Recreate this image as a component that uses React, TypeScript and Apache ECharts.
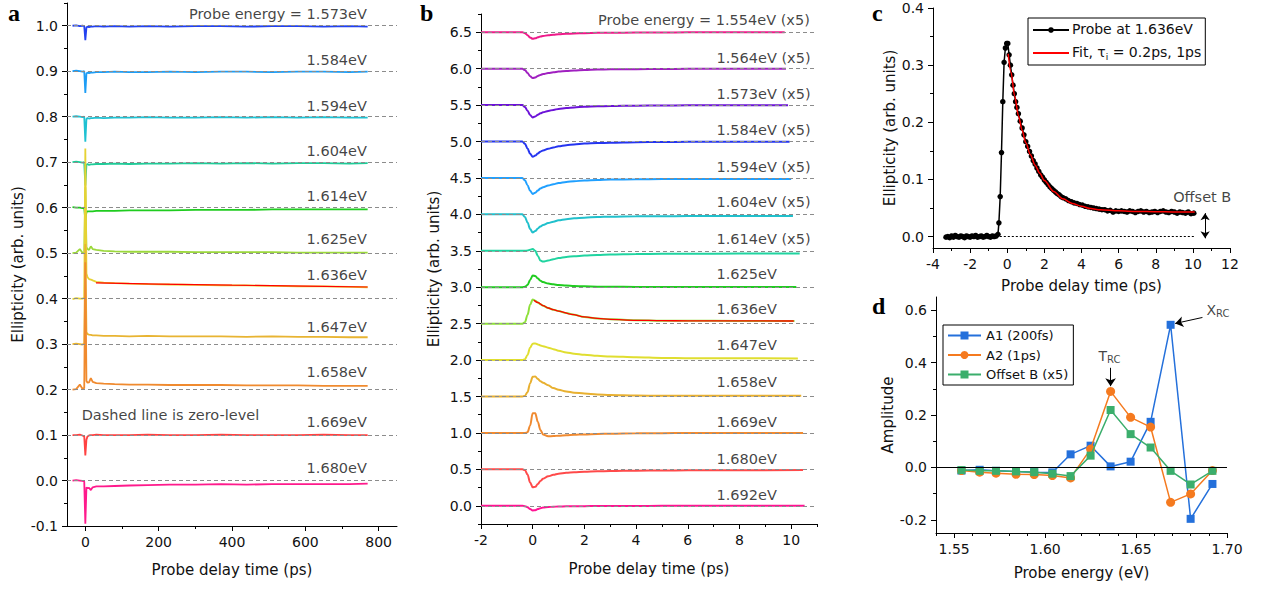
import React, { useEffect, useRef } from 'react';
import * as echarts from 'echarts';

const FONT = '"DejaVu Sans", "Liberation Sans", sans-serif';
const SERIF = '"Liberation Serif", "DejaVu Serif", serif';
const TXT = '#111';

// ---------------- Panel a ----------------
const aTime = [-35, -25, -15, -8, -3, 0, 3, 6, 10, 15, 20, 30, 50, 80, 120, 170, 230, 300, 370, 440, 510, 580, 650, 720, 770];
const aLabels = ['Probe energy = 1.573eV', '1.584eV', '1.594eV', '1.604eV', '1.614eV', '1.625eV', '1.636eV', '1.647eV', '1.658eV', '1.669eV', '1.680eV'];
const aOffsets = [1.0, 0.9, 0.8, 0.7, 0.6, 0.5, 0.4, 0.3, 0.2, 0.1, 0.0];
const aLabelY = [1.002, 0.901, 0.801, 0.702, 0.603, 0.508, 0.4286, 0.3154, 0.2147, 0.1066, 0.0044];
const aColors = ['#2342f0', '#1d9df5', '#1fc1d2', '#1fcb98', '#1fcc1f', '#9bd83b', '#e6d233', '#e8b432', '#f08a2e', '#ff4242', '#ff1a8c'];
const a1573 = [1.0, 1.001, 0.999, 1.0, 0.999, 0.968, 0.996, 0.998, 0.997, 0.998, 0.998, 0.999, 0.998, 0.999, 0.998, 0.999, 0.998, 0.999, 0.999, 0.998, 0.999, 0.999, 0.998, 0.999, 0.998];
const a1584 = [0.9, 0.901, 0.9, 0.899, 0.9, 0.852, 0.895, 0.897, 0.896, 0.897, 0.897, 0.898, 0.898, 0.899, 0.898, 0.898, 0.899, 0.898, 0.899, 0.899, 0.898, 0.899, 0.899, 0.898, 0.899];
const a1594 = [0.8, 0.801, 0.8, 0.799, 0.8, 0.745, 0.795, 0.797, 0.796, 0.797, 0.797, 0.798, 0.797, 0.798, 0.798, 0.799, 0.798, 0.798, 0.799, 0.798, 0.799, 0.798, 0.799, 0.798, 0.798];
const a1604 = [0.7, 0.701, 0.7, 0.699, 0.7, 0.649, 0.694, 0.696, 0.694, 0.695, 0.695, 0.696, 0.696, 0.697, 0.696, 0.697, 0.697, 0.698, 0.697, 0.698, 0.697, 0.698, 0.698, 0.697, 0.698];
const a1614 = [0.601, 0.6, 0.6, 0.599, 0.6, 0.572, 0.59, 0.592, 0.592, 0.592, 0.592, 0.593, 0.593, 0.593, 0.594, 0.594, 0.594, 0.595, 0.595, 0.595, 0.596, 0.596, 0.596, 0.596, 0.596];
const a1625 = [0.5, 0.501, 0.509, 0.501, 0.5, 0.645, 0.513, 0.509, 0.507, 0.515, 0.509, 0.507, 0.505, 0.504, 0.503, 0.503, 0.503, 0.502, 0.502, 0.502, 0.502, 0.501, 0.501, 0.501, 0.501];
const a1636 = [0.399, 0.401, 0.4, 0.4, 0.402, 0.73, 0.455, 0.447, 0.443, 0.442, 0.44, 0.437, 0.435, 0.434, 0.433, 0.432, 0.431, 0.43, 0.429, 0.429, 0.428, 0.427, 0.427, 0.426, 0.425];
const a1647 = [0.3, 0.301, 0.3, 0.299, 0.301, 0.52, 0.326, 0.322, 0.321, 0.32, 0.319, 0.319, 0.318, 0.318, 0.317, 0.318, 0.317, 0.317, 0.317, 0.316, 0.317, 0.316, 0.316, 0.315, 0.315];
const a1658 = [0.2, 0.201, 0.211, 0.202, 0.203, 0.48, 0.219, 0.215, 0.216, 0.225, 0.217, 0.214, 0.213, 0.212, 0.211, 0.211, 0.21, 0.21, 0.21, 0.209, 0.209, 0.209, 0.208, 0.208, 0.208];
const a1669 = [0.1, 0.1, 0.101, 0.099, 0.097, 0.055, 0.09, 0.097, 0.099, 0.1, 0.1, 0.101, 0.1, 0.1, 0.1, 0.101, 0.1, 0.1, 0.101, 0.1, 0.1, 0.1, 0.101, 0.1, 0.1];
const a1680 = [0.0, 0.001, 0.0, -0.001, -0.002, -0.095, -0.015, -0.017, -0.016, -0.021, -0.015, -0.013, -0.013, -0.012, -0.011, -0.01, -0.009, -0.009, -0.008, -0.009, -0.008, -0.008, -0.008, -0.008, -0.007];
const aTraces = [a1573, a1584, a1594, a1604, a1614, a1625, a1636, a1647, a1658, a1669, a1680];
const aFitTime = [29, 200, 400, 600, 770];
const aFitVal = [0.4345, 0.432, 0.4295, 0.4275, 0.4255];
const aXTicks = [0, 200, 400, 600, 800];
const aXMinor = [100, 300, 500, 700];
const aYTicks = [-0.1, 0.0, 0.1, 0.2, 0.3, 0.4, 0.5, 0.6, 0.7, 0.8, 0.9, 1.0];
const aYMinor = [-0.05, 0.05, 0.15, 0.25, 0.35, 0.45, 0.55, 0.65, 0.75, 0.85, 0.95, 1.05];

// ---------------- Panel b ----------------
const bTime = [-2, -0.4, -0.3, -0.2, -0.1, 0, 0.1, 0.2, 0.3, 0.4, 0.6, 0.8, 1.0, 1.3, 1.6, 2, 2.5, 3, 4, 5, 6, 8];
const bEnd = [9.75, 9.8, 9.88, 9.94, 10.0, 10.07, 10.33, 10.2, 10.13, 10.26, 10.39, 10.46, 10.46, 10.52];
const bLabels = ['Probe energy = 1.554eV (x5)', '1.564eV (x5)', '1.573eV (x5)', '1.584eV (x5)', '1.594eV (x5)', '1.604eV (x5)', '1.614eV (x5)', '1.625eV', '1.636eV', '1.647eV', '1.658eV', '1.669eV', '1.680eV', '1.692eV'];
const bOffsets = [6.5, 6.0, 5.5, 5.0, 4.5, 4.0, 3.5, 3.0, 2.5, 2.0, 1.5, 1.0, 0.5, 0.0];
const bLabelY = [6.522, 6.005, 5.514, 5.008, 4.51, 4.027, 3.523, 3.032, 2.559, 2.063, 1.56, 1.0, 0.5, 0.004];
const bColors = ['#ee1a8a', '#a020c0', '#6c12d8', '#2535f0', '#20a0ff', '#20c0cc', '#20d4a0', '#20cc20', '#8ee03a', '#e0de30', '#e8b030', '#f08a30', '#ff4a4a', '#ff1493'];
const b1554 = [6.5, 6.5, 6.487, 6.46, 6.428, 6.41, 6.417, 6.43, 6.441, 6.448, 6.458, 6.465, 6.472, 6.478, 6.483, 6.487, 6.491, 6.493, 6.495, 6.497, 6.498, 6.499, 6.499];
const b1564 = [6.0, 6.0, 5.98, 5.94, 5.896, 5.87, 5.88, 5.899, 5.914, 5.925, 5.939, 5.949, 5.96, 5.969, 5.975, 5.982, 5.987, 5.99, 5.993, 5.995, 5.997, 5.998, 5.999];
const b1573 = [5.5, 5.5, 5.474, 5.423, 5.364, 5.33, 5.344, 5.367, 5.388, 5.401, 5.42, 5.434, 5.447, 5.459, 5.468, 5.476, 5.483, 5.486, 5.492, 5.494, 5.496, 5.497, 5.498];
const b1584 = [5.0, 5.0, 4.968, 4.905, 4.832, 4.79, 4.807, 4.836, 4.861, 4.878, 4.901, 4.918, 4.935, 4.95, 4.96, 4.971, 4.979, 4.983, 4.99, 4.993, 4.995, 4.997, 4.998];
const b1594 = [4.5, 4.5, 4.467, 4.401, 4.324, 4.28, 4.298, 4.328, 4.355, 4.372, 4.397, 4.414, 4.43, 4.445, 4.455, 4.464, 4.472, 4.477, 4.482, 4.485, 4.486, 4.487, 4.487];
const b1604 = [4.0, 4.0, 3.963, 3.888, 3.8, 3.75, 3.77, 3.805, 3.835, 3.855, 3.88, 3.9, 3.918, 3.934, 3.945, 3.955, 3.963, 3.968, 3.973, 3.975, 3.976, 3.977, 3.977];
const b1614 = [3.5, 3.5, 3.5, 3.505, 3.515, 3.525, 3.5, 3.43, 3.365, 3.352, 3.365, 3.385, 3.4, 3.415, 3.425, 3.435, 3.443, 3.448, 3.455, 3.458, 3.46, 3.462, 3.463];
const b1625 = [3.0, 3.0, 3.005, 3.03, 3.1, 3.16, 3.155, 3.12, 3.09, 3.07, 3.05, 3.04, 3.03, 3.022, 3.016, 3.012, 3.008, 3.006, 3.004, 3.003, 3.002, 3.002, 3.002];
const b1636 = [2.5, 2.5, 2.52, 2.62, 2.76, 2.83, 2.815, 2.79, 2.765, 2.745, 2.715, 2.69, 2.673, 2.645, 2.622, 2.59, 2.572, 2.559, 2.546, 2.541, 2.539, 2.537, 2.536];
const b1647 = [2.0, 2.0, 2.012, 2.07, 2.17, 2.225, 2.228, 2.215, 2.2, 2.19, 2.17, 2.15, 2.128, 2.105, 2.088, 2.073, 2.058, 2.05, 2.038, 2.03, 2.026, 2.024, 2.022];
const b1658 = [1.5, 1.5, 1.51, 1.56, 1.68, 1.77, 1.775, 1.74, 1.71, 1.69, 1.655, 1.615, 1.592, 1.57, 1.553, 1.54, 1.528, 1.52, 1.513, 1.511, 1.51, 1.51, 1.51];
const b1669 = [1.0, 1.0, 1.0, 1.01, 1.1, 1.27, 1.27, 1.15, 1.04, 0.98, 0.955, 0.957, 0.962, 0.968, 0.974, 0.98, 0.986, 0.99, 0.995, 0.997, 0.998, 0.999, 0.999];
const b1680 = [0.5, 0.5, 0.49, 0.43, 0.32, 0.255, 0.26, 0.3, 0.34, 0.37, 0.405, 0.425, 0.44, 0.452, 0.46, 0.467, 0.473, 0.477, 0.482, 0.485, 0.487, 0.489, 0.49];
const b1692 = [0.0, 0.0, -0.005, -0.02, -0.045, -0.063, -0.06, -0.045, -0.033, -0.025, -0.017, -0.013, -0.01, -0.008, -0.006, -0.005, -0.004, -0.003, -0.002, -0.001, -0.001, 0.0, 0.0];
const bTraces = [b1554, b1564, b1573, b1584, b1594, b1604, b1614, b1625, b1636, b1647, b1658, b1669, b1680, b1692];
const bFitTime = [0.05, 0.2, 0.4, 0.6, 0.8, 1.0, 1.5, 2, 2.5, 3, 4, 5, 6, 8, 10.1];
const bFitVal = [2.822, 2.79, 2.748, 2.715, 2.692, 2.673, 2.628, 2.592, 2.572, 2.559, 2.546, 2.541, 2.539, 2.537, 2.536];
const bXTicks = [-2, 0, 2, 4, 6, 8, 10];
const bXMinor = [-1, 1, 3, 5, 7, 9, 11];
const bYTicks = [0.0, 0.5, 1.0, 1.5, 2.0, 2.5, 3.0, 3.5, 4.0, 4.5, 5.0, 5.5, 6.0, 6.5];
const bYMinor = [-0.25, 0.25, 0.75, 1.25, 1.75, 2.25, 2.75, 3.25, 3.75, 4.25, 4.75, 5.25, 5.75, 6.25, 6.75];

// ---------------- Panel c ----------------
const cProbe: [number, number][] = [
  [-3.3, -0.001], [-3.2, 0.0], [-3.1, -0.002], [-3.0, 0.001], [-2.9, -0.001], [-2.8, 0.002], [-2.7, 0.0], [-2.6, -0.001],
  [-2.5, 0.001], [-2.4, 0.0], [-2.3, -0.002], [-2.2, 0.001], [-2.1, 0.0], [-2.0, -0.001], [-1.9, 0.001], [-1.8, 0.0],
  [-1.7, 0.002], [-1.6, -0.001], [-1.5, 0.0], [-1.4, 0.001], [-1.3, -0.001], [-1.2, 0.0], [-1.1, 0.002], [-1.0, 0.0],
  [-0.9, -0.001], [-0.8, 0.001], [-0.7, 0.0], [-0.6, 0.001], [-0.5, 0.004], [-0.45, 0.024], [-0.38, 0.07], [-0.31, 0.147],
  [-0.24, 0.236], [-0.17, 0.305], [-0.1, 0.33], [-0.03, 0.338], [0.03, 0.338], [0.1, 0.318], [0.17, 0.3], [0.24, 0.283],
  [0.31, 0.265], [0.38, 0.25], [0.45, 0.236], [0.52, 0.226], [0.6, 0.215], [0.7, 0.202], [0.8, 0.19], [0.9, 0.178],
  [1.0, 0.166], [1.1, 0.158], [1.2, 0.149], [1.3, 0.141], [1.4, 0.133], [1.5, 0.127], [1.6, 0.12], [1.7, 0.114],
  [1.8, 0.108], [1.9, 0.104], [2.0, 0.099], [2.1, 0.095], [2.2, 0.091], [2.3, 0.087], [2.4, 0.084], [2.5, 0.081],
  [2.6, 0.078], [2.7, 0.075], [2.8, 0.073], [2.9, 0.07], [3.0, 0.068], [3.15, 0.066], [3.3, 0.063], [3.45, 0.061],
  [3.6, 0.059], [3.75, 0.058], [3.9, 0.056], [4.05, 0.055], [4.2, 0.053], [4.35, 0.052], [4.5, 0.051], [4.65, 0.05],
  [4.8, 0.049], [4.95, 0.048], [5.1, 0.047], [5.25, 0.047], [5.4, 0.045], [5.55, 0.046], [5.7, 0.043], [5.85, 0.045],
  [6.0, 0.044], [6.15, 0.045], [6.3, 0.044], [6.45, 0.043], [6.6, 0.045], [6.75, 0.044], [6.9, 0.042], [7.05, 0.044],
  [7.2, 0.045], [7.35, 0.043], [7.5, 0.044], [7.65, 0.042], [7.8, 0.043], [7.95, 0.044], [8.1, 0.042], [8.25, 0.044],
  [8.4, 0.045], [8.55, 0.043], [8.7, 0.042], [8.85, 0.044], [9.0, 0.043], [9.15, 0.041], [9.3, 0.043], [9.45, 0.042],
  [9.6, 0.041], [9.75, 0.043], [9.9, 0.04], [10.05, 0.041]
];
const cFitTime = [0.05, 0.2, 0.4, 0.6, 0.8, 1.0, 1.25, 1.5, 1.75, 2.0, 2.5, 3.0, 3.5, 4.0, 4.5, 5.0, 6.0, 7.0, 8.0, 9.0, 10.1];
const cFitVal = [0.32, 0.288, 0.246, 0.212, 0.186, 0.164, 0.143, 0.125, 0.111, 0.098, 0.079, 0.066, 0.058, 0.053, 0.049, 0.047, 0.045, 0.044, 0.0435, 0.043, 0.043];
const cXTicks = [-4, -2, 0, 2, 4, 6, 8, 10, 12];
const cXMinor = [-3, -1, 1, 3, 5, 7, 9, 11];
const cYTicks = [0.0, 0.1, 0.2, 0.3, 0.4];
const cYMinor = [0.05, 0.15, 0.25, 0.35];

// ---------------- Panel d ----------------
const dEnergy = [1.554, 1.564, 1.573, 1.584, 1.594, 1.604, 1.614, 1.625, 1.636, 1.647, 1.658, 1.669, 1.680, 1.692];
const dA1 = [-0.012, -0.009, -0.013, -0.015, -0.018, -0.019, 0.05, 0.083, 0.004, 0.022, 0.174, 0.544, -0.196, -0.063];
const dA2 = [-0.012, -0.018, -0.022, -0.026, -0.027, -0.031, -0.04, 0.07, 0.29, 0.191, 0.154, -0.133, -0.101, -0.012];
const dB = [-0.01, -0.013, -0.013, -0.015, -0.018, -0.024, -0.033, 0.045, 0.219, 0.127, 0.076, -0.013, -0.065, -0.013];
const dXTicks = [1.55, 1.60, 1.65, 1.70];
const dXMinor = [1.54, 1.56, 1.57, 1.58, 1.59, 1.61, 1.62, 1.63, 1.64, 1.66, 1.67, 1.68, 1.69];
const dYTicks = [-0.2, 0.0, 0.2, 0.4, 0.6];
const dYMinor = [-0.1, 0.1, 0.3, 0.5];

const axisLine = { show: true, onZero: false, lineStyle: { color: '#000', width: 1 } };
const nameStyle = { fontFamily: FONT, fontSize: 15, color: TXT };

function xMajor(grid: number, min: number, max: number, ticks: number[], fmt: (v: number) => string, name: string, gap: number) {
  return {
    type: 'value', gridIndex: grid, position: 'bottom', min, max,
    axisLine,
    axisTick: { show: true, customValues: ticks, length: 5, lineStyle: { color: '#000' } },
    axisLabel: { show: true, customValues: ticks, formatter: fmt, color: TXT, fontFamily: FONT, fontSize: 14, margin: 9 },
    splitLine: { show: false },
    name, nameLocation: 'middle', nameGap: gap, nameTextStyle: nameStyle,
  };
}
function xMinor(grid: number, min: number, max: number, ticks: number[]) {
  return {
    type: 'value', gridIndex: grid, position: 'bottom', min, max,
    axisLine: { show: false, onZero: false },
    axisTick: { show: true, customValues: ticks, length: 3, lineStyle: { color: '#000' } },
    axisLabel: { show: false }, splitLine: { show: false },
  };
}
function yMajor(grid: number, min: number, max: number, ticks: number[], fmt: (v: number) => string, name: string, gap: number) {
  return {
    type: 'value', gridIndex: grid, position: 'left', min, max,
    axisLine,
    axisTick: { show: true, customValues: ticks, length: 5, lineStyle: { color: '#000' } },
    axisLabel: { show: true, customValues: ticks, formatter: fmt, color: TXT, fontFamily: FONT, fontSize: 14, margin: 9 },
    splitLine: { show: false },
    name, nameLocation: 'middle', nameGap: gap, nameTextStyle: nameStyle,
  };
}
function yMinor(grid: number, min: number, max: number, ticks: number[]) {
  return {
    type: 'value', gridIndex: grid, position: 'left', min, max,
    axisLine: { show: false, onZero: false },
    axisTick: { show: true, customValues: ticks, length: 3, lineStyle: { color: '#000' } },
    axisLabel: { show: false }, splitLine: { show: false },
  };
}

const f0 = (v: number) => String(Math.round(v));
const f1 = (v: number) => v.toFixed(1);
const f2 = (v: number) => v.toFixed(2);

function zeroLines(xi: number, offsets: number[]) {
  return {
    type: 'line', name: 'zero' + xi, xAxisIndex: xi, yAxisIndex: xi, data: [], silent: true, z: 1,
    markLine: {
      silent: true, symbol: ['none', 'none'], label: { show: false },
      lineStyle: { color: '#8c8c8c', type: [4, 3], width: 1 },
      data: offsets.map((v) => ({ yAxis: v })),
    },
  };
}

function labelSeries(xi: number, items: any[], align: string) {
  return {
    type: 'scatter', name: 'labels' + xi, xAxisIndex: xi, yAxisIndex: xi, symbolSize: 0, silent: true, z: 5,
    itemStyle: { color: 'transparent' },
    label: { show: true, formatter: '{b}', fontFamily: FONT, fontSize: 14.5, color: TXT, position: [0, -3], align, verticalAlign: 'bottom' },
    data: items,
  };
}

function buildOption() {
  const series: any[] = [];
  // panel a
  series.push(zeroLines(0, aOffsets));
  aTraces.forEach((vals, i) => {
    series.push({
      type: 'line', name: 'a ' + aLabels[i], xAxisIndex: 0, yAxisIndex: 0, symbol: 'none', z: 2,
      lineStyle: { color: aColors[i], width: 1.8 },
      data: aTime.map((t, k) => [t, vals[k]]),
    });
  });
  series.push({
    type: 'line', name: 'a fit', xAxisIndex: 0, yAxisIndex: 0, symbol: 'none', z: 3,
    lineStyle: { color: '#ff0000', width: 1.2 },
    data: aFitTime.map((t, k) => [t, aFitVal[k]]),
  });
  const aItems: any[] = aLabels.map((t, i) => ({ value: [768, aLabelY[i]], name: t }));
  aItems.push({ value: [-10, 0.143], name: 'Dashed line is zero-level', label: { align: 'left', verticalAlign: 'middle', position: [0, 0] } });
  series.push(labelSeries(0, aItems, 'right'));

  // panel b
  series.push(zeroLines(2, bOffsets));
  bTraces.forEach((vals, i) => {
    const pts = bTime.map((t, k) => [t, vals[k]]);
    pts.push([bEnd[i], vals[vals.length - 1]]);
    series.push({
      type: 'line', name: 'b ' + bLabels[i], xAxisIndex: 2, yAxisIndex: 2, symbol: 'none', z: 2,
      smooth: 0.35, smoothMonotone: 'x',
      lineStyle: { color: bColors[i], width: 2 },
      data: pts,
    });
  });
  series.push({
    type: 'line', name: 'b fit', xAxisIndex: 2, yAxisIndex: 2, symbol: 'none', z: 3, smooth: 0.35, smoothMonotone: 'x',
    lineStyle: { color: '#ff0000', width: 1.3 },
    data: bFitTime.map((t, k) => [t, bFitVal[k]]),
  });
  const bItems: any[] = bLabels.map((t, i) => ({ value: [i === 0 ? 2.53 : 7.11, bLabelY[i]], name: t }));
  series.push(labelSeries(2, bItems, 'left'));

  // panel c
  series.push({
    type: 'line', name: 'c zero', xAxisIndex: 4, yAxisIndex: 4, data: [], silent: true,
    markLine: {
      silent: true, symbol: ['none', 'none'], label: { show: false },
      lineStyle: { color: '#000', type: [2, 2], width: 1.2 },
      data: [[{ coord: [-0.4, 0] }, { coord: [10.1, 0] }]],
    },
  });
  series.push({
    type: 'line', name: 'c arrow', xAxisIndex: 4, yAxisIndex: 4, data: [], silent: true,
    markLine: {
      silent: true, symbol: ['arrow', 'arrow'], symbolSize: 7, label: { show: false },
      lineStyle: { color: '#000', type: 'solid', width: 1 },
      data: [[{ coord: [10.66, -0.003] }, { coord: [10.66, 0.041] }]],
    },
  });
  series.push({
    type: 'line', name: 'Probe at 1.636eV', xAxisIndex: 4, yAxisIndex: 4, z: 2,
    symbol: 'circle', symbolSize: 5.5, showSymbol: true,
    itemStyle: { color: '#000' }, lineStyle: { color: '#000', width: 1.5 },
    data: cProbe,
  });
  series.push({
    type: 'line', name: 'Fit', xAxisIndex: 4, yAxisIndex: 4, z: 3, symbol: 'none', smooth: 0.3, smoothMonotone: 'x',
    itemStyle: { color: '#ff0000' }, lineStyle: { color: '#ff0000', width: 1.5 },
    data: cFitTime.map((t, k) => [t, cFitVal[k]]),
  });
  const cl = labelSeries(4, [{ value: [8.94, 0.07], name: 'Offset B' }], 'left');
  (cl.label as any).verticalAlign = 'middle';
  (cl.label as any).position = [0, 0];
  series.push(cl);

  // panel d
  series.push({
    type: 'line', name: 'd zero', xAxisIndex: 6, yAxisIndex: 6, data: [], silent: true,
    markLine: {
      silent: true, symbol: ['none', 'none'], label: { show: false },
      lineStyle: { color: '#000', type: 'solid', width: 1 },
      data: [{ yAxis: 0 }],
    },
  });
  series.push({
    type: 'line', name: 'A1 (200fs)', xAxisIndex: 6, yAxisIndex: 6, z: 2,
    symbol: 'rect', symbolSize: 8, itemStyle: { color: '#2470db' }, lineStyle: { color: '#2470db', width: 1.5 },
    data: dEnergy.map((e, k) => [e, dA1[k]]),
  });
  series.push({
    type: 'line', name: 'A2 (1ps)', xAxisIndex: 6, yAxisIndex: 6, z: 3,
    symbol: 'circle', symbolSize: 9, itemStyle: { color: '#f57a1f' }, lineStyle: { color: '#f57a1f', width: 1.5 },
    data: dEnergy.map((e, k) => [e, dA2[k]]),
  });
  series.push({
    type: 'line', name: 'Offset B (x5)', xAxisIndex: 6, yAxisIndex: 6, z: 4,
    symbol: 'rect', symbolSize: 8, itemStyle: { color: '#3bae6c' }, lineStyle: { color: '#3bae6c', width: 1.5 },
    data: dEnergy.map((e, k) => [e, dB[k]]),
  });
  const richSub = {
    n: { fontFamily: FONT, fontSize: 14, color: TXT, lineHeight: 16, verticalAlign: 'top' },
    s: { fontFamily: FONT, fontSize: 10, color: TXT, lineHeight: 10, verticalAlign: 'bottom', padding: [9, 0, 0, 0] },
  };
  series.push({
    type: 'scatter', name: 'd notes', xAxisIndex: 6, yAxisIndex: 6, symbolSize: 0, silent: true, z: 5,
    itemStyle: { color: 'transparent' },
    label: { show: true, position: [0, 0], align: 'center', verticalAlign: 'middle', rich: richSub },
    data: [
      { value: [1.6354, 0.422], name: 'TRC', label: { formatter: '{n|T}{s|RC}' } },
      { value: [1.695, 0.597], name: 'XRC', label: { formatter: '{n|X}{s|RC}' } },
    ],
    markLine: {
      silent: true, symbol: ['none', 'arrow'], symbolSize: 8, label: { show: false },
      lineStyle: { color: '#000', type: 'solid', width: 1 },
      data: [
        [{ coord: [1.636, 0.38] }, { coord: [1.636, 0.31] }],
        [{ coord: [1.6865, 0.572] }, { coord: [1.6715, 0.549] }],
      ],
    },
  });

  return {
    animation: false,
    backgroundColor: '#fff',
    grid: [
      { left: 67, top: 3, width: 330, height: 523 },
      { left: 481, top: 14, width: 336, height: 510 },
      { left: 933, top: 8, width: 297, height: 240 },
      { left: 936, top: 297, width: 291, height: 236 },
    ],
    xAxis: [
      xMajor(0, -50, 850, aXTicks, f0, 'Probe delay time (ps)', 36),
      xMinor(0, -50, 850, aXMinor),
      xMajor(1, -2, 11, bXTicks, f0, 'Probe delay time (ps)', 37),
      xMinor(1, -2, 11, bXMinor),
      xMajor(2, -4, 12, cXTicks, f0, 'Probe delay time (ps)', 30),
      xMinor(2, -4, 12, cXMinor),
      xMajor(3, 1.54, 1.70, dXTicks, f2, 'Probe energy (eV)', 32),
      xMinor(3, 1.54, 1.70, dXMinor),
    ],
    yAxis: [
      yMajor(0, -0.1, 1.05, aYTicks, f1, 'Ellipticity (arb. units)', 42),
      yMinor(0, -0.1, 1.05, aYMinor),
      yMajor(1, -0.25, 6.75, bYTicks, f1, 'Ellipticity (arb. units)', 40),
      yMinor(1, -0.25, 6.75, bYMinor),
      yMajor(2, -0.02, 0.4, cYTicks, f1, 'Ellipticity (arb. units)', 28),
      yMinor(2, -0.02, 0.4, cYMinor),
      yMajor(3, -0.25, 0.65, dYTicks, f1, 'Amplitude', 35),
      yMinor(3, -0.25, 0.65, dYMinor),
    ],
    legend: [
      {
        data: ['Probe at 1.636eV', { name: 'Fit', itemStyle: { opacity: 0 } }], orient: 'vertical', left: 1028, top: 18,
        selectedMode: false, itemWidth: 36, itemHeight: 7, itemGap: 7,
        borderColor: '#000', borderWidth: 1, borderRadius: 0, padding: [4, 4, 4, 4],
        formatter: (name: string) => (name === 'Fit' ? '{n|Fit, τ}{s|i}{n| = 0.2ps, 1ps}' : '{n|' + name + '}'),
        textStyle: {
          fontFamily: FONT, fontSize: 14, color: TXT, padding: [0, 0, 0, -2],
          rich: {
            n: { fontFamily: FONT, fontSize: 14, color: TXT, lineHeight: 16, verticalAlign: 'top' },
            s: { fontFamily: FONT, fontSize: 9, color: TXT, lineHeight: 9, verticalAlign: 'bottom', padding: [9, 0, 0, 0] },
          },
        },
      },
      {
        data: ['A1 (200fs)', 'A2 (1ps)', 'Offset B (x5)'], orient: 'vertical', left: 943, top: 325,
        selectedMode: false, itemWidth: 33, itemHeight: 10, itemGap: 6.5,
        borderColor: '#000', borderWidth: 1, borderRadius: 0, padding: [4, 5, 4, 4],
        textStyle: { fontFamily: FONT, fontSize: 13, color: TXT },
      },
    ],
    graphic: [
      { type: 'text', left: 8, top: 1, style: { text: 'a', fontFamily: SERIF, fontSize: 24, fontWeight: 'bold', fill: '#000' } },
      { type: 'text', left: 420, top: 1, style: { text: 'b', fontFamily: SERIF, fontSize: 24, fontWeight: 'bold', fill: '#000' } },
      { type: 'text', left: 872, top: 1, style: { text: 'c', fontFamily: SERIF, fontSize: 24, fontWeight: 'bold', fill: '#000' } },
      { type: 'text', left: 872, top: 294, style: { text: 'd', fontFamily: SERIF, fontSize: 24, fontWeight: 'bold', fill: '#000' } },
    ],
    series,
  };
}

export default function App() {
  const ref = useRef<HTMLDivElement>(null);
  useEffect(() => {
    if (!ref.current) return;
    const chart = echarts.init(ref.current, null, { renderer: 'svg' });
    chart.setOption(buildOption() as any);
    return () => chart.dispose();
  }, []);
  return <div ref={ref} style={{ position: 'absolute', left: 0, top: 0, width: 1266, height: 590, background: '#fff' }} />;
}
